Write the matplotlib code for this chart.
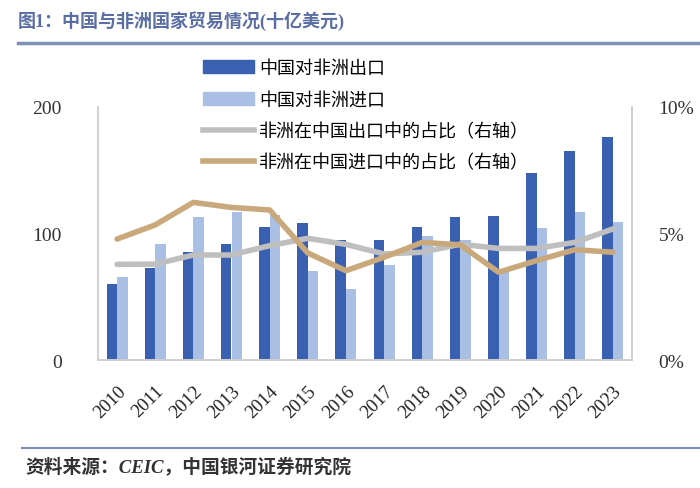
import matplotlib
matplotlib.use("Agg")
import matplotlib.pyplot as plt
import numpy as np
from matplotlib.patches import Patch
from matplotlib.lines import Line2D

years = ["2010", "2011", "2012", "2013", "2014", "2015", "2016",
         "2017", "2018", "2019", "2020", "2021", "2022", "2023"]
exports = [60, 73, 85, 92, 105, 108, 95, 95, 105, 113, 114, 148, 165, 176]
imports = [66, 92, 113, 117, 115, 70, 56, 75, 98, 95, 71, 104, 117, 109]
export_share = [3.78, 3.79, 4.15, 4.15, 4.52, 4.81, 4.57, 4.19, 4.26, 4.58, 4.41, 4.41, 4.65, 5.18]
import_share = [4.78, 5.34, 6.23, 6.03, 5.93, 4.23, 3.53, 4.06, 4.65, 4.55, 3.47, 3.93, 4.36, 4.26]

left_ticks = [0, 100, 200]
right_ticks = [0, 5, 10]

labels = ["中国对非洲出口", "中国对非洲进口", "非洲在中国出口中的占比（右轴）", "非洲在中国进口中的占比（右轴）"]
title = "图1：中国与非洲国家贸易情况(十亿美元)"
source = "资料来源：CEIC，中国银河证券研究院"

c_exp = "#3a60b2"
c_imp = "#aabfe4"
c_gray = "#bfbfbf"
c_brown = "#c9a97c"
c_spine = "#d0d0d0"

cjk = ["Noto Sans CJK SC", "DejaVu Sans"]
serif = ["Liberation Serif", "DejaVu Serif"]
mixed = ["Liberation Serif", "Noto Sans CJK SC", "DejaVu Sans"]

fig = plt.figure(figsize=(7, 4.89), dpi=100)
ax = fig.add_axes([98/700, 1-361/489, (632-98)/700, (361-108)/489])
ax2 = ax.twinx()

x = np.arange(len(years))
w = 0.275
ax.bar(x - w/2, exports, width=w, color=c_exp, zorder=2)
ax.bar(x + w/2, imports, width=w, color=c_imp, zorder=2)
ax2.plot(x, export_share, color=c_gray, lw=4, solid_capstyle="round", solid_joinstyle="round")
ax2.plot(x, import_share, color=c_brown, lw=4, solid_capstyle="round", solid_joinstyle="round")

ax.set_xlim(-0.5, len(years) - 0.5)
ax.set_ylim(0, 200)
ax2.set_ylim(0, 10)
ax.set_yticks(left_ticks)
ax.set_yticklabels([str(t) for t in left_ticks], family=serif, fontsize=14, color="#333333")
ax2.set_yticks(right_ticks)
ax2.set_yticklabels([f"{t}%" for t in right_ticks], family=serif, fontsize=14, color="#333333")
ax.set_xticks(x)
ax.set_xticklabels(years, family=serif, fontsize=13.5, rotation=45, ha="right",
                   rotation_mode="anchor", color="#222222")
ax.tick_params(axis="y", length=0, pad=26)
ax2.tick_params(axis="y", length=0, pad=19)
ax.tick_params(axis="x", length=0, pad=16)

for a in (ax, ax2):
    a.spines["top"].set_visible(False)
    for s in ("left", "right", "bottom"):
        a.spines[s].set_color(c_spine)
        a.spines[s].set_linewidth(1.2)
ax.set_zorder(1)
ax2.set_zorder(2)
ax.patch.set_visible(False)
ax2.patch.set_visible(False)

handles = [Patch(color=c_exp), Patch(color=c_imp),
           Line2D([], [], color=c_gray, lw=4), Line2D([], [], color=c_brown, lw=4)]
fig.legend(handles, labels, loc="upper left", bbox_to_anchor=(203/700, 1-60/489),
           frameon=False, prop={"family": cjk, "size": 13}, handlelength=2.8,
           handletextpad=0.3, labelspacing=0.75, borderpad=0, borderaxespad=0)

fig.text(18/700, 1-21/489, title, family=mixed, fontsize=13, weight="bold",
         color="#5a6ea3", va="center", ha="left")
fig.add_artist(Line2D([18/700, 1], [1-44/489, 1-44/489], color="#7f8fb8", lw=2.5))
fig.add_artist(Line2D([22/700, 1], [1-449/489, 1-449/489], color="#7f8fb8", lw=1.5))
fig.text(25/700, 1-468/489, source, family=mixed, fontsize=13.5, weight="bold",
         style="italic", color="#333333", va="center", ha="left")

fig.savefig("out.png", dpi=100)
